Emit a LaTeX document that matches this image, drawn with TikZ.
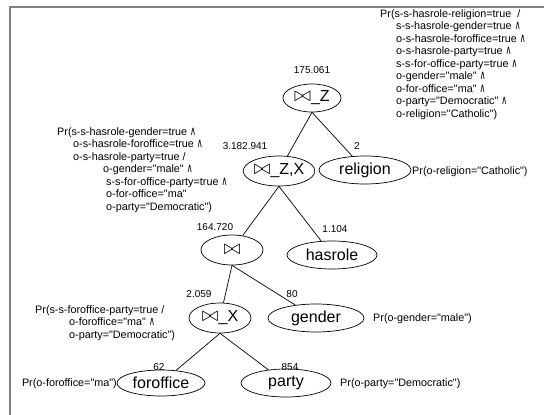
\documentclass[tikz,border=0pt]{standalone}
\usepackage{fontspec}
\usepackage{graphicx}
\newfontfamily\helv{Liberation Sans}
\newfontfamily\dejavu{DejaVu Sans}
\usetikzlibrary{shapes.geometric}

\newcommand\conj{\scalebox{0.8}[1.25]{\dejavu\fontsize{10}{10}\selectfont ∧}}
\newcommand\jn{\scalebox{1.2}{$\bowtie$}}
\newcommand\ind[1]{\hspace*{#1pt}}

\begin{document}
\begin{tikzpicture}[x=1pt, y=-1pt,
  op/.style    = {draw, ellipse, line width=0.7pt, inner sep=0pt,
                  font=\helv\fontsize{16}{18}\selectfont},
  edge/.style  = {line width=0.7pt},
  card/.style  = {font=\helv\fontsize{10}{11}\selectfont, inner sep=0pt},
                   % the size of each intermediate result, above its child
  prob/.style  = {font=\helv\fontsize{10.8}{12.5}\selectfont, inner sep=0pt,
                  align=left},
  frame/.style = {draw=gray, line width=1.6pt},
]
  \useasboundingbox (0,0) rectangle (544,415);
  \draw[frame] (10,415) -- (10,7) -- (544,7);

  % join operators and base relations
  \node[op, minimum width=58, minimum height=28] (jz)        at (312,98)  {\jn\_Z};
  \node[op, minimum width=62, minimum height=30] (jzx)       at (279,171) {\jn\_Z,X};
  \node[op, minimum width=92, minimum height=28] (religion)  at (365,170) {religion};
  \node[op, minimum width=62, minimum height=30] (j)         at (232,250) {\jn};
  \node[op, minimum width=90, minimum height=28] (hasrole)   at (332,255) {hasrole};
  \node[op, minimum width=62, minimum height=30] (jx)        at (220,318) {\jn\_X};
  \node[op, minimum width=96, minimum height=28] (gender)    at (316,318) {gender};
  \node[op, minimum width=88, minimum height=26] (foroffice) at (161,383) {foroffice};
  \node[op, minimum width=90, minimum height=28] (party)     at (286,383) {party};

  \draw[edge] (jz.south) -- (jzx);
  \draw[edge] (jz.south) -- (religion);
  \draw[edge] (jzx.south) -- (j);
  \draw[edge] (jzx.south) -- (hasrole);
  \draw[edge] (j.south) -- (jx);
  \draw[edge] (j.south) -- (gender);
  \draw[edge] (jx.south) -- (foroffice);
  \draw[edge] (jx.south) -- (party);

  \node[card] (c_jz)        at (312,70)  {175.061};
  \node[card] (c_jzx)       at (245,146) {3.182.941};
  \node[card] (c_religion)  at (357,146) {2};
  \node[card] (c_j)         at (215,227) {164.720};
  \node[card] (c_hasrole)   at (335,229) {1.104};
  \node[card] (c_jx)        at (199,294) {2.059};
  \node[card] (c_gender)    at (292,294) {80};
  \node[card] (c_foroffice) at (159,367) {62};
  \node[card] (c_party)     at (290,367) {854};

  % the probability each operator or relation stands for
  \node[prob, anchor=north west] (p_jz) at (380,9) {%
    Pr(s-s-hasrole-religion=true\ \ /\\
    \ind{16}s-s-hasrole-gender=true \conj\\
    \ind{16}o-s-hasrole-foroffice=true \conj\\
    \ind{16}o-s-hasrole-party=true \conj\\
    \ind{16}s-s-for-office-party=true \conj\\
    \ind{16}o-gender="male" \conj\\
    \ind{16}o-for-office="ma" \conj\\
    \ind{16}o-party="Democratic" \conj\\
    \ind{16}o-religion="Catholic")};
  \node[prob, anchor=north west] (p_jzx) at (57,127) {%
    Pr(s-s-hasrole-gender=true \conj\\
    \ind{16}o-s-hasrole-foroffice=true \conj\\
    \ind{16}o-s-hasrole-party=true /\\
    \ind{46}o-gender="male" \conj\\
    \ind{49}s-s-for-office-party=true \conj\\
    \ind{49}o-for-office="ma"\\
    \ind{49}o-party="Democratic")};
  \node[prob, anchor=north west] (p_jx) at (35,305) {%
    Pr(s-s-foroffice-party=true /\\
    \ind{34}o-foroffice="ma" \conj\\
    \ind{34}o-party="Democratic")};
  \node[prob, anchor=west]  (p_religion)  at (412,172) {Pr(o-religion="Catholic")};
  \node[prob, anchor=west]  (p_gender)    at (373,319) {Pr(o-gender="male")};
  \node[prob, anchor=east]  (p_foroffice) at (117,384) {Pr(o-foroffice="ma")};
  \node[prob, anchor=west]  (p_party)     at (340,384) {Pr(o-party="Democratic")};
\end{tikzpicture}
\end{document}
